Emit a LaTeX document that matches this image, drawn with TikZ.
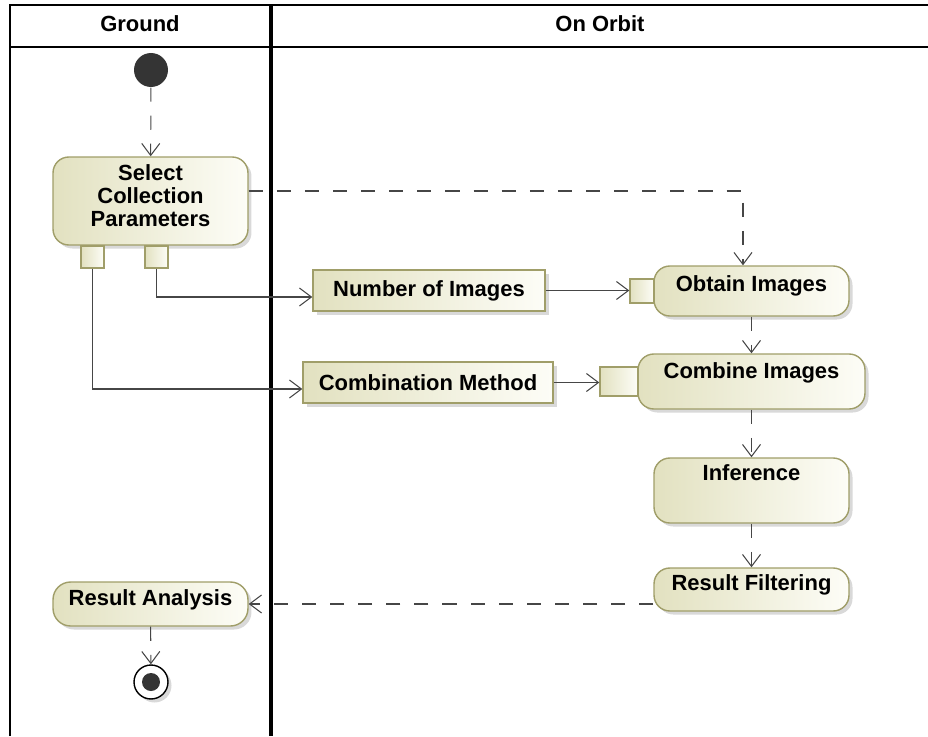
\documentclass[tikz,border=0pt]{standalone}
\usepackage{fontspec}
\setmainfont{Liberation Sans}
\usetikzlibrary{arrows.meta,positioning,calc,shadows}
\definecolor{actL}{RGB}{226,225,192}
\definecolor{actR}{RGB}{253,253,247}
\definecolor{actB}{RGB}{160,158,105}
\definecolor{lnC}{RGB}{70,70,70}
\definecolor{dotC}{RGB}{52,52,52}

\begin{document}
\begin{tikzpicture}[x=0.02cm, y=-0.02cm, >={Straight Barb[length=2.4mm,width=3.6mm]}, semithick,
    font=\bfseries\fontsize{12.5}{13.2}\selectfont]
    \tikzstyle{act}=[draw=actB, thick, rounded corners=9pt, left color=actL, right color=actR,
        drop shadow={shadow xshift=2pt, shadow yshift=-2pt, opacity=0.3}, align=center, inner sep=2pt]
    \tikzstyle{objbox}=[act, rounded corners=0pt]
    \tikzstyle{pinbox}=[draw=actB, thick, left color=actL, right color=actR, inner sep=0pt]
    \tikzstyle{ctrl}=[->, draw=lnC, dash pattern=on 8pt off 8pt]
    \tikzstyle{objf}=[->, draw=lnC]
    \tikzstyle{lane}=[line width=1.2pt, draw=black]
    \useasboundingbox (0,0) rectangle (928,736);

    % swimlanes
    \draw[lane] (10,736) -- (10,5) -- (928,5);
    \draw[lane, line width=1.6pt] (10,47) -- (928,47);
    \draw[lane, line width=1.8pt] (271,5) -- (271,736);
    \node (ground) at (140,24) {Ground};
    \node (orbit)  at (600,24) {On Orbit};

    % ground side
    \node[circle, fill=dotC, minimum size=0.68cm, inner sep=0pt] (init) at (151,70) {};
    \node[act, minimum width=3.9cm, minimum height=1.76cm, text depth=6pt] (sel) at (150.5,201)
        {Select\\Collection\\Parameters};
    \node[pinbox, minimum width=0.46cm, minimum height=0.44cm] (pinL) at (92.5,257) {};
    \node[pinbox, minimum width=0.46cm, minimum height=0.44cm] (pinR) at (156.5,257) {};
    \node[act, rounded corners=10pt, minimum width=3.9cm, minimum height=0.88cm, text depth=7pt] (ana) at (150.5,604)
        {Result Analysis};
    \node[circle, draw=black, thick, fill=white, minimum size=0.68cm, inner sep=0pt,
        drop shadow={shadow xshift=2pt, shadow yshift=-2pt, opacity=0.3}] (fin) at (151,682) {};
    \node[circle, fill=dotC, minimum size=0.36cm, inner sep=0pt] (finin) at (fin) {};

    % object nodes
    \node[objbox, minimum width=4.64cm, minimum height=0.82cm] (num) at (429,290.5) {Number of Images};
    \node[objbox, minimum width=5.0cm, minimum height=0.82cm] (cmb) at (428,382.5) {Combination Method};

    % on orbit side
    \node[act, minimum width=3.9cm, minimum height=1.0cm, text depth=9pt] (obt) at (751.5,291) {Obtain Images};
    \node[pinbox, minimum width=0.48cm, minimum height=0.48cm] (pinO) at (642,291) {};
    \node[act, minimum width=4.54cm, minimum height=1.1cm, text depth=12pt] (cbi) at (751.5,381.5) {Combine Images};
    \node[pinbox, minimum width=0.76cm, minimum height=0.58cm] (pinC) at (619,381.5) {};
    \node[act, minimum width=3.9cm, minimum height=1.3cm, text depth=20pt] (inf) at (751.5,490.5) {Inference};
    \node[act, minimum width=3.9cm, minimum height=0.86cm, text depth=7.5pt] (flt) at (751.5,589.5) {Result Filtering};

    % control flow
    \draw[ctrl] (init) -- (sel);
    \draw[ctrl] ([yshift=0.2cm]sel.east) -| ([xshift=-0.17cm]obt.north);
    \draw[ctrl] (obt) -- (cbi);
    \draw[ctrl] (cbi) -- (inf);
    \draw[ctrl] (inf) -- (flt);
    \draw[ctrl] (ana.east -| flt.west) -- (ana.east);
    \draw[ctrl] (ana) -- (fin);

    % object flow
    \draw[objf] (pinR.south) |- ([yshift=-0.13cm]num.west);
    \draw[objf] (pinL.south) |- ([yshift=-0.13cm]cmb.west);
    \draw[objf] (num.east) -- (num.east -| pinO.west);
    \draw[objf] (cmb.east) -- (cmb.east -| pinC.west);
\end{tikzpicture}
\end{document}
